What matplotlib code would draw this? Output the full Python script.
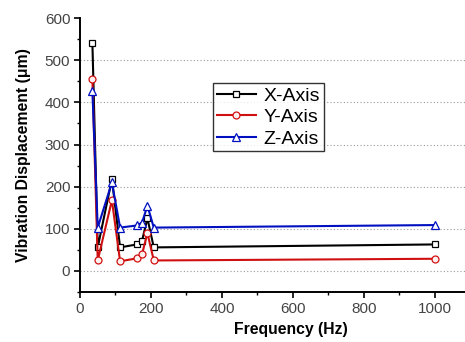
import numpy as np
import matplotlib
matplotlib.use('Agg')
import matplotlib.pyplot as plt

plt.rcParams['font.family'] = ['Liberation Sans', 'DejaVu Sans']

freq = [35, 50, 90, 113, 160, 175, 190, 208, 1000]
x_axis = [540, 56, 218, 56, 63, 72, 125, 56, 63]
y_axis = [455, 25, 168, 23, 30, 40, 90, 25, 29]
z_axis = [427, 103, 210, 103, 108, 115, 155, 103, 109]

fig = plt.figure(figsize=(4.65, 3.42), dpi=100)
ax = fig.add_axes([0.172, 0.146, 0.828, 0.801])

for v in range(0, 600, 100):
    ax.axhline(v, color='#999999', linestyle=(0, (1, 2)), linewidth=0.8, zorder=0)

ax.plot(freq, x_axis, color='black', linewidth=1.5, marker='s', markersize=5,
        markerfacecolor='white', markeredgecolor='black', markeredgewidth=0.9, label='X-Axis')
ax.plot(freq, y_axis, color='#d01010', linewidth=1.5, marker='o', markersize=5,
        markerfacecolor='#fff0f0', markeredgecolor='#d01010', markeredgewidth=0.9, label='Y-Axis')
ax.plot(freq, z_axis, color='#0010c0', linewidth=1.5, marker='^', markersize=6,
        markerfacecolor='white', markeredgecolor='#0010c0', markeredgewidth=0.9, label='Z-Axis')

ax.set_xlim(0, 1085)
ax.set_ylim(-50, 600)
ax.set_xticks([0, 200, 400, 600, 800, 1000])
ax.set_xticks([100, 300, 500, 700, 900], minor=True)
ax.set_yticks([0, 100, 200, 300, 400, 500, 600])
ax.set_yticks([-50, 50, 150, 250, 350, 450, 550], minor=True)

for s in ['top', 'right']:
    ax.spines[s].set_visible(False)
for s in ['left', 'bottom']:
    ax.spines[s].set_linewidth(1.4)

ax.tick_params(which='major', direction='out', length=4, width=1.2, labelsize=11,
               labelcolor='#444444', pad=3)
ax.tick_params(which='minor', direction='out', length=2.5, width=1.0)

ax.set_xlabel('Frequency (Hz)', fontsize=11.3, fontweight='bold')
ax.xaxis.set_label_coords(0.548, -0.11)
ax.set_ylabel('Vibration Displacement (\u03bcm)', fontsize=11.3, fontweight='bold', labelpad=10)

leg = ax.legend(loc='upper left', bbox_to_anchor=(0.345, 0.763), borderaxespad=0,
                fontsize=14, frameon=True, fancybox=False, edgecolor='black',
                handlelength=2.0, handletextpad=0.4, labelspacing=0.2, borderpad=0.2)
leg.get_frame().set_linewidth(1.0)

fig.savefig('out.png', dpi=100)
